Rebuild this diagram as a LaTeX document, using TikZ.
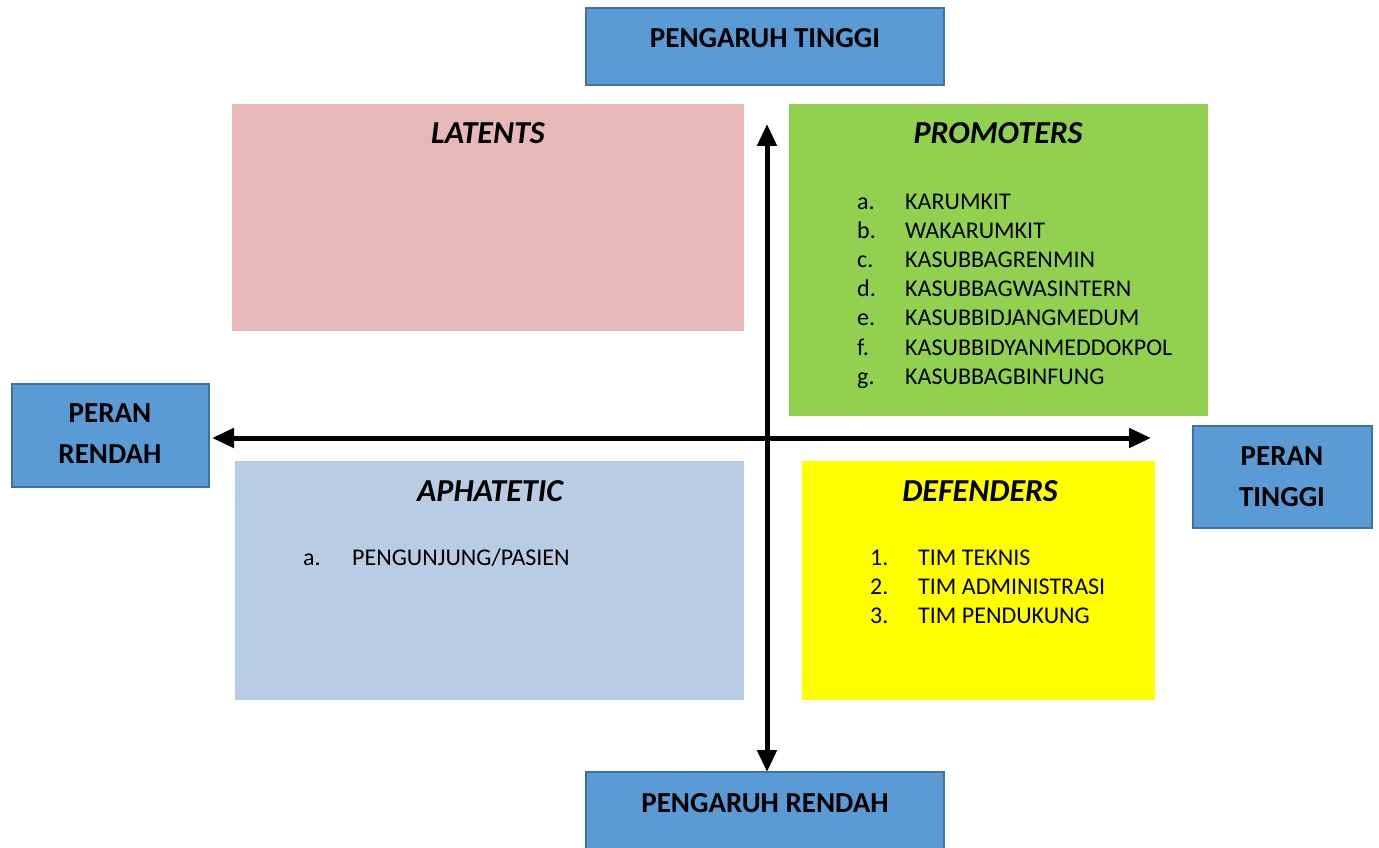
\documentclass[tikz,border=0pt]{standalone}
\usepackage{fontspec}
\setmainfont{Carlito}
\usetikzlibrary{arrows.meta}
\definecolor{bluebox}{HTML}{5B9BD5}
\definecolor{blueedge}{HTML}{41719C}
\definecolor{latfill}{HTML}{E6B8B7}
\definecolor{profill}{HTML}{92D050}
\definecolor{aphfill}{HTML}{B8CCE4}
\definecolor{deffill}{HTML}{FFFF00}
\tikzset{
  axisbox/.style={draw=blueedge, line width=2pt, fill=bluebox},
  lbl/.style={font=\fontsize{29}{41}\selectfont\bfseries, inner sep=0pt, align=center},
  qtitle/.style={font=\fontsize{32}{36}\selectfont\bfseries\itshape, inner sep=0pt, anchor=base},
  item/.style={font=\fontsize{24}{28}\selectfont, inner sep=0pt, anchor=base west},
  axis/.style={line width=5pt, {Triangle[length=22pt,width=19pt]}-{Triangle[length=22pt,width=19pt]}}
}
\begin{document}
\begin{tikzpicture}[x=1pt,y=-1pt]
\useasboundingbox (0,0) rectangle (1379,848);
% axis boxes
\draw[axisbox] (586,8) rectangle (944,85);
\node[lbl] (ptinggi) at (765,38) {PENGARUH TINGGI};
\draw[axisbox] (586,772) rectangle (944,860);
\node[lbl] (prendah) at (765,803) {PENGARUH RENDAH};
\draw[axisbox] (12,384) rectangle (209,487);
\node[lbl] (rrendah) at (110,434) {PERAN\\RENDAH};
\draw[axisbox] (1193,426) rectangle (1372,528);
\node[lbl] (rtinggi) at (1282,477) {PERAN\\TINGGI};
% quadrants
\fill[latfill] (232,104) rectangle (744,331);
\fill[profill] (789,104) rectangle (1208,416);
\fill[aphfill] (235,461) rectangle (744,700);
\fill[deffill] (802,461) rectangle (1155,700);
\node[qtitle] (latents) at (488,144) {LATENTS};
\node[qtitle] (promoters) at (998,144) {PROMOTERS};
\node[qtitle] (aphatetic) at (490,501) {APHATETIC};
\node[qtitle] (defenders) at (980,501) {DEFENDERS};
% promoters list
\foreach \l/\t [count=\i from 0] in {a./KARUMKIT, b./WAKARUMKIT, c./KASUBBAGRENMIN, d./KASUBBAGWASINTERN, e./KASUBBIDJANGMEDUM, f./KASUBBIDYANMEDDOKPOL, g./KASUBBAGBINFUNG}{
  \node[item] (pl\i) at (857,{209+29.2*\i}) {\l};
  \node[item] (pt\i) at (905,{209+29.2*\i}) {\t};
}
% aphatetic list
\node[item] (al0) at (303,565) {a.};
\node[item] (at0) at (352,565) {PENGUNJUNG/PASIEN};
% defenders list
\foreach \l/\t [count=\i from 0] in {1./TIM TEKNIS, 2./TIM ADMINISTRASI, 3./TIM PENDUKUNG}{
  \node[item] (dl\i) at (870,{565+29.2*\i}) {\l};
  \node[item] (dt\i) at (918,{565+29.2*\i}) {\t};
}
% axes
\coordinate (vtop) at (767,124);
\coordinate (vbot) at (767,772);
\coordinate (hleft) at (212,438);
\coordinate (hright) at (1151,438);
\draw[axis] (vtop) -- (vbot);
\draw[axis] (hleft) -- (hright);
\end{tikzpicture}
\end{document}
